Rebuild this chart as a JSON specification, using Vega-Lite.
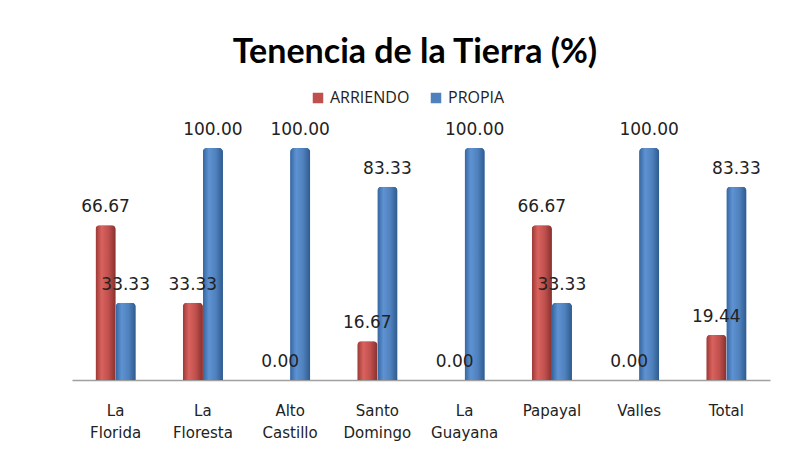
{
  "$schema": "https://vega.github.io/schema/vega-lite/v6.json",
  "autosize": "none",
  "width": 698,
  "height": 232,
  "padding": {"left": 72, "top": 148, "right": 39, "bottom": 72},
  "background": "white",
  "title": {
    "text": "Tenencia de la Tierra (%)",
    "font": "Lato",
    "fontSize": 34,
    "fontWeight": "bold",
    "color": "#000000",
    "anchor": "middle",
    "offset": 20,
    "dx": -6
  },
  "data": {
    "values": [
      {"lugar": "La Florida", "serie": "ARRIENDO", "valor": 66.67},
      {"lugar": "La Florida", "serie": "PROPIA", "valor": 33.33},
      {"lugar": "La Floresta", "serie": "ARRIENDO", "valor": 33.33},
      {"lugar": "La Floresta", "serie": "PROPIA", "valor": 100.0},
      {"lugar": "Alto Castillo", "serie": "ARRIENDO", "valor": 0.0},
      {"lugar": "Alto Castillo", "serie": "PROPIA", "valor": 100.0},
      {"lugar": "Santo Domingo", "serie": "ARRIENDO", "valor": 16.67},
      {"lugar": "Santo Domingo", "serie": "PROPIA", "valor": 83.33},
      {"lugar": "La Guayana", "serie": "ARRIENDO", "valor": 0.0},
      {"lugar": "La Guayana", "serie": "PROPIA", "valor": 100.0},
      {"lugar": "Papayal", "serie": "ARRIENDO", "valor": 66.67},
      {"lugar": "Papayal", "serie": "PROPIA", "valor": 33.33},
      {"lugar": "Valles", "serie": "ARRIENDO", "valor": 0.0},
      {"lugar": "Valles", "serie": "PROPIA", "valor": 100.0},
      {"lugar": "Total", "serie": "ARRIENDO", "valor": 19.44},
      {"lugar": "Total", "serie": "PROPIA", "valor": 83.33}
    ]
  },
  "encoding": {
    "x": {
      "field": "lugar",
      "type": "nominal",
      "sort": null,
      "scale": {"paddingInner": 0.54, "paddingOuter": 0.27},
      "axis": {
        "title": null,
        "labelAngle": 0,
        "labelFont": "DejaVu Sans",
        "labelFontSize": 15,
        "labelColor": "#222222",
        "labelLineHeight": 22,
        "labelPadding": 23,
        "labelExpr": "split(datum.value, ' ')",
        "ticks": false,
        "domainColor": "#a0a0a0",
        "domainWidth": 1.5
      }
    },
    "xOffset": {"field": "serie", "type": "nominal"},
    "y": {
      "field": "valor",
      "type": "quantitative",
      "scale": {"domain": [0, 100]},
      "axis": null
    }
  },
  "layer": [
    {
      "mark": {"type": "bar", "cornerRadiusTopLeft": 4, "cornerRadiusTopRight": 4},
      "encoding": {
        "color": {
          "field": "serie",
          "type": "nominal",
          "scale": {"domain": ["ARRIENDO", "PROPIA"], "range": ["#C0504D", "#4F81BD"]},
          "legend": {
            "title": null,
            "orient": "none",
            "legendX": 238,
            "legendY": -58,
            "direction": "horizontal",
            "symbolType": "square",
            "symbolSize": 110,
            "labelFont": "Open Sans",
            "labelFontSize": 16,
            "labelColor": "#222222",
            "columnPadding": 18
          }
        }
      }
    },
    {
      "transform": [{"filter": "datum.serie == 'ARRIENDO'"}],
      "mark": {
        "type": "bar",
        "cornerRadiusTopLeft": 4,
        "cornerRadiusTopRight": 4,
        "color": {
          "gradient": "linear", "x1": 0, "y1": 0, "x2": 1, "y2": 0,
          "stops": [
            {"offset": 0, "color": "#9A3835"},
            {"offset": 0.3, "color": "#D9625E"},
            {"offset": 0.65, "color": "#C0504D"},
            {"offset": 1, "color": "#87302D"}
          ]
        }
      }
    },
    {
      "transform": [{"filter": "datum.serie == 'PROPIA'"}],
      "mark": {
        "type": "bar",
        "cornerRadiusTopLeft": 4,
        "cornerRadiusTopRight": 4,
        "color": {
          "gradient": "linear", "x1": 0, "y1": 0, "x2": 1, "y2": 0,
          "stops": [
            {"offset": 0, "color": "#33659F"},
            {"offset": 0.3, "color": "#5F92D2"},
            {"offset": 0.65, "color": "#4F81BD"},
            {"offset": 1, "color": "#2E5A8E"}
          ]
        }
      }
    },
    {
      "mark": {"type": "text", "font": "DejaVu Sans", "fontSize": 17, "color": "#222222", "dy": -18, "baseline": "middle"},
      "encoding": {
        "text": {"field": "valor", "type": "quantitative", "format": ".2f"}
      }
    }
  ],
  "config": {"view": {"stroke": null}}
}
